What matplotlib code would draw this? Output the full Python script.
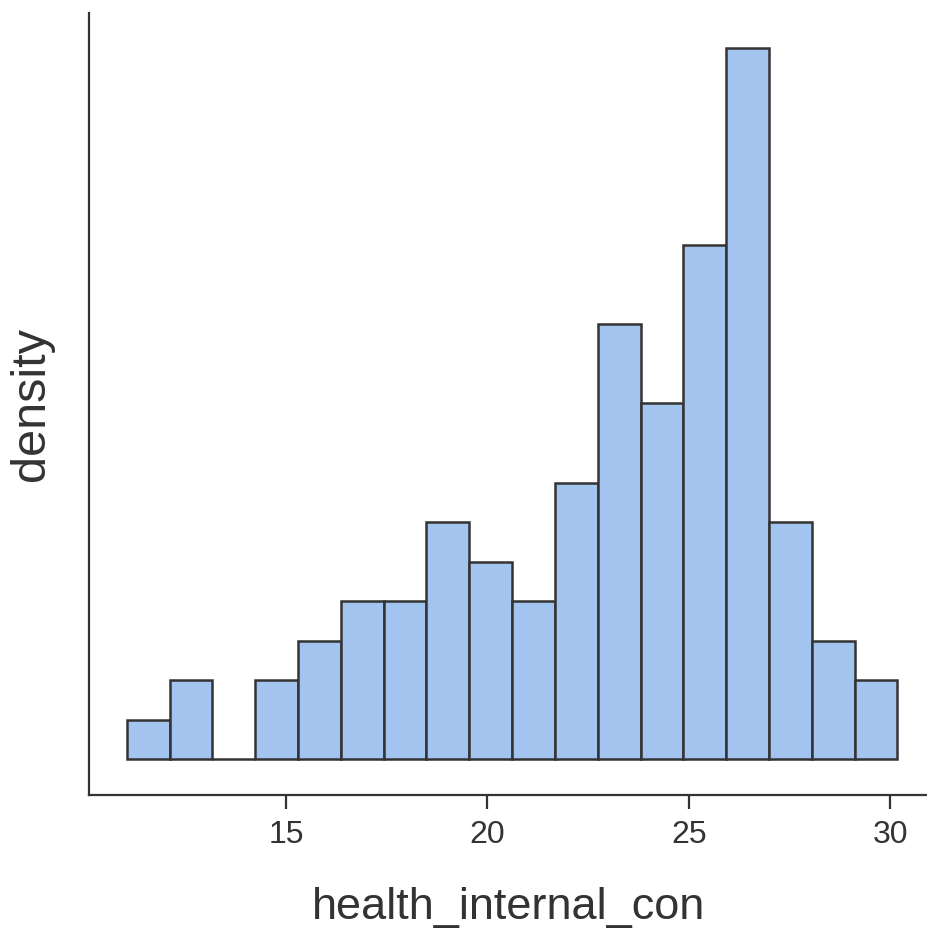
import matplotlib
matplotlib.use("Agg")
import matplotlib.pyplot as plt
import numpy as np

# Data
bin_edges = [11.044, 12.107, 13.170, 14.234, 15.297, 16.360, 17.423, 18.487,
             19.550, 20.613, 21.676, 22.740, 23.803, 24.866, 25.929, 26.993,
             28.056, 29.119, 30.182]
counts = [1, 2, 0, 2, 3, 4, 4, 6, 5, 4, 7, 11, 9, 13, 18, 6, 3, 2]
x_ticks = [15, 20, 25, 30]
x_label = "health_internal_con"
y_label = "density"

plt.rcParams['font.family'] = ['Liberation Sans', 'DejaVu Sans']

fig = plt.figure(figsize=(9.28, 9.31), dpi=100)
ax = fig.add_axes([89/928, 136/931, 1 - 89/928, (795-13)/931])

edges = np.array(bin_edges)
ax.hist(edges[:-1], bins=edges, weights=counts, density=True,
        color='#A4C4F0', edgecolor='#333333', linewidth=1.8)

ax.set_xlim(10.108, 30.94)
dens_max = max(counts) / (sum(counts) * (edges[1] - edges[0]))
ax.set_ylim(-0.05 * dens_max, 1.048 * dens_max)

for s in ['top', 'right']:
    ax.spines[s].set_visible(False)
for s in ['left', 'bottom']:
    ax.spines[s].set_color('#333333')
    ax.spines[s].set_linewidth(1.6)

ax.set_xticks(x_ticks)
ax.set_xticklabels([str(t) for t in x_ticks])
ax.tick_params(axis='x', length=10, width=1.6, color='#333333',
               labelsize=23, labelcolor='#333333', pad=8)
ax.set_yticks([])

ax.set_xlabel(x_label, fontsize=32.5, color='#333333', labelpad=27)
ax.set_ylabel(y_label, fontsize=35, color='#333333', labelpad=25)

fig.savefig("out.png", dpi=100)
